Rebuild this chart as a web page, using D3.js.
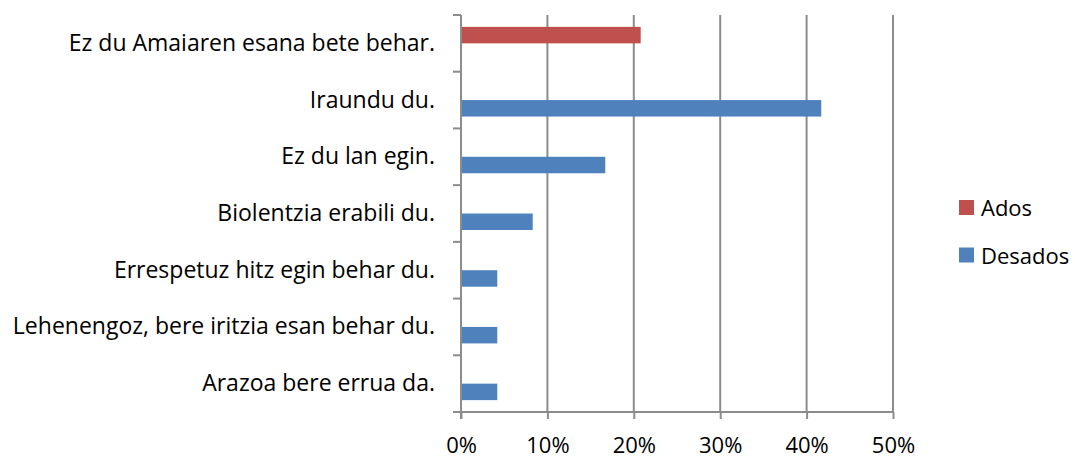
<!DOCTYPE html>
<html>
<head>
<meta charset="utf-8">
<script src="https://cdn.jsdelivr.net/npm/d3@7"></script>
<style>
  body { margin: 0; background: #fff; }
  svg text { font-family: "Open Sans", Lato, sans-serif; fill: #000; }
</style>
</head>
<body>
<svg id="chart" width="1075" height="460"></svg>
<script>
'use strict'

// categories top to bottom
var categories = [
    'Ez du Amaiaren esana bete behar.',
    'Iraundu du.',
    'Ez du lan egin.',
    'Biolentzia erabili du.',
    'Errespetuz hitz egin behar du.',
    'Lehenengoz, bere iritzia esan behar du.',
    'Arazoa bere errua da.'
];
var seriesNames = ['Ados', 'Desados'];
var ados    = [0.208, 0,     0,     0,     0,     0,     0];
var desados = [0,     0.417, 0.167, 0.083, 0.042, 0.042, 0.042];
var xTicks = [0, 0.1, 0.2, 0.3, 0.4, 0.5];
var colors = ['#C0504D', '#4F81BD'];

var svg = d3.select('#chart');
var pLeft = 461, pRight = 893, pTop = 15, pBottom = 412;
var fs = 22;

var x = d3.scaleLinear().domain([0, 0.5]).range([pLeft, pRight]);
var y = d3.scaleBand().domain(categories).range([pTop, pBottom]).paddingInner(0).paddingOuter(0);
var inner = d3.scaleBand().domain(seriesNames).range([0, y.bandwidth()]).paddingInner(0).paddingOuter(0.72);

// gridlines
svg.append('g').selectAll('line')
    .data(xTicks.slice(1))
    .enter().append('line')
    .attr('x1', function(d){ return x(d); })
    .attr('x2', function(d){ return x(d); })
    .attr('y1', pTop)
    .attr('y2', pBottom)
    .attr('stroke', '#8c8c8c')
    .attr('stroke-width', 2);

// bars
var rows = [];
for (var i = 0; i < categories.length; i++) {
    rows.push({cat: categories[i], s: 'Ados', v: ados[i], c: colors[0]});
    rows.push({cat: categories[i], s: 'Desados', v: desados[i], c: colors[1]});
}
svg.append('g').selectAll('rect')
    .data(rows.filter(function(d){ return d.v > 0; }))
    .enter().append('rect')
    .attr('x', x(0))
    .attr('y', function(d){ return y(d.cat) + inner(d.s); })
    .attr('width', function(d){ return x(d.v) - x(0); })
    .attr('height', inner.bandwidth())
    .attr('fill', function(d){ return d.c; });

// x axis
var xAxis = d3.axisBottom(x).tickValues(xTicks).tickSize(7).tickPadding(18)
    .tickFormat(d3.format('.0%'));
var gx = svg.append('g').attr('transform', 'translate(0,' + pBottom + ')').call(xAxis);
gx.select('.domain').attr('d', 'M' + (pLeft - 8) + ',0H' + pRight).attr('stroke', '#8c8c8c').attr('stroke-width', 2);
gx.selectAll('.tick line').attr('stroke', '#8c8c8c').attr('stroke-width', 2);
gx.selectAll('text').attr('font-size', fs).attr('font-family', '"Open Sans", sans-serif').attr('fill', '#000');

// y axis
var gy = svg.append('g').attr('transform', 'translate(' + pLeft + ',0)');
gy.append('line').attr('x1', 0).attr('x2', 0).attr('y1', pTop).attr('y2', pBottom + 7)
    .attr('stroke', '#8c8c8c').attr('stroke-width', 2);
var yEdges = categories.map(function(c){ return y(c); });
gy.selectAll('.ytick')
    .data(yEdges)
    .enter().append('line')
    .attr('x1', -8).attr('x2', 0)
    .attr('y1', function(d){ return d; })
    .attr('y2', function(d){ return d; })
    .attr('stroke', '#8c8c8c').attr('stroke-width', 2);
gy.selectAll('.ylab')
    .data(categories)
    .enter().append('text')
    .attr('x', -26)
    .attr('y', function(d){ return y(d) + y.bandwidth() / 2 + 7.5; })
    .attr('text-anchor', 'end')
    .attr('font-size', 23)
    .text(function(d){ return d; });

// legend
var legend = svg.append('g').attr('transform', 'translate(959,200)');
var li = legend.selectAll('g').data(seriesNames).enter().append('g')
    .attr('transform', function(d, i){ return 'translate(0,' + (i * 47.5) + ')'; });
li.append('rect').attr('width', 15).attr('height', 15)
    .attr('fill', function(d, i){ return colors[i]; });
li.append('text').attr('x', 22).attr('y', 16)
    .attr('font-size', fs).text(function(d){ return d; });
</script>
</body>
</html>
